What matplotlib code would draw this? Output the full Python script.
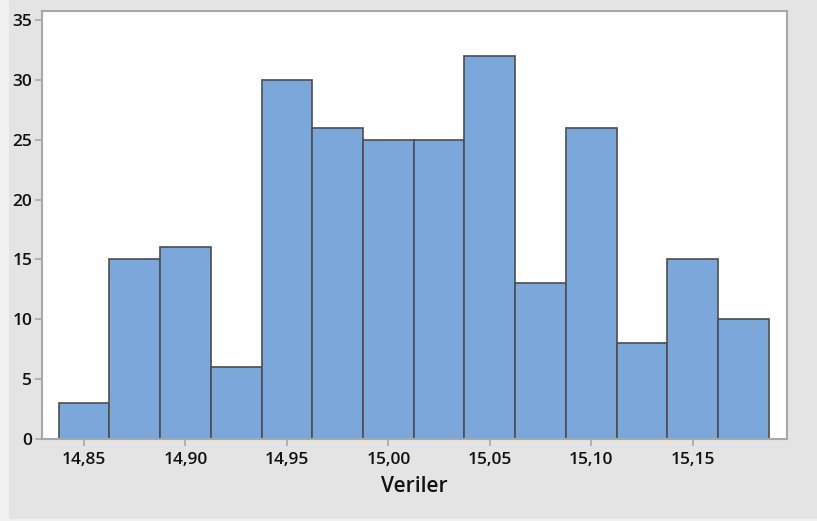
import matplotlib.pyplot as plt
from matplotlib.patches import Rectangle

# -------------------------- data --------------------------
bin_centers = [14.850, 14.875, 14.900, 14.925, 14.950, 14.975, 15.000,
               15.025, 15.050, 15.075, 15.100, 15.125, 15.150, 15.175]
counts = [3, 15, 16, 6, 30, 26, 25, 25, 32, 13, 26, 8, 15, 10]
bin_width = 0.025
x_ticks = [14.85, 14.90, 14.95, 15.00, 15.05, 15.10, 15.15]
y_ticks = [0, 5, 10, 15, 20, 25, 30, 35]
x_label = "Veriler"

plt.rcParams['font.family'] = ['Open Sans', 'DejaVu Sans']

# -------------------------- figure --------------------------
fig = plt.figure(figsize=(8.17, 5.21), dpi=100)
fig.patch.set_facecolor('#f0f0f0')
# grey panel behind the chart
fig.patches.append(Rectangle((9 / 817, 2 / 521), 1 - 9 / 817, 1 - 2 / 521,
                             transform=fig.transFigure, facecolor='#e4e4e4',
                             edgecolor='none', zorder=-10))

ax = fig.add_axes([42 / 817, 1 - 439 / 521, 745 / 817, 428 / 521])
ax.set_facecolor('white')

ax.bar(bin_centers, counts, width=bin_width, color='#7ba7da',
       edgecolor='#4d4d4d', linewidth=1.2, zorder=2)

ax.set_xlim(14.8293, 15.1965)
ax.set_ylim(0, 35.75)
ax.set_xticks(x_ticks)
ax.set_xticklabels([f"{t:.2f}".replace('.', ',') for t in x_ticks])
ax.set_yticks(y_ticks)

for s in ax.spines.values():
    s.set_color('#a8a8a8')
    s.set_linewidth(1.5)

ax.tick_params(axis='both', direction='out', length=5, width=1.2,
               color='#a8a8a8', labelsize=12.5, labelcolor='#111111')
for lab in ax.get_xticklabels() + ax.get_yticklabels():
    lab.set_fontweight('semibold')
ax.tick_params(axis='x', pad=4)
ax.tick_params(axis='y', pad=2)

ax.set_xlabel(x_label, fontsize=15, fontweight='semibold', color='#111111',
              labelpad=6)

fig.savefig('out.png', dpi=100, facecolor=fig.get_facecolor())
